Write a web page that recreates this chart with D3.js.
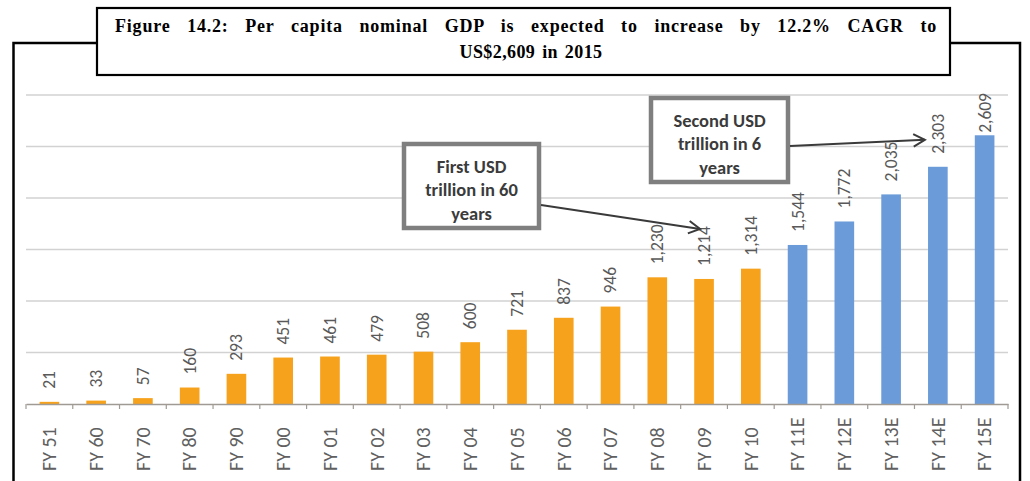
<!DOCTYPE html>
<html><head><meta charset="utf-8">
<script src="https://cdn.jsdelivr.net/npm/d3@7"></script>
<style>body{margin:0;background:#fff;overflow:hidden} svg{display:block}</style>
</head><body>
<svg id="c" width="1030" height="481"></svg>
<script>
// ---- data ----
const categories = ["FY 51","FY 60","FY 70","FY 80","FY 90","FY 00","FY 01","FY 02","FY 03","FY 04","FY 05","FY 06","FY 07","FY 08","FY 09","FY 10","FY 11E","FY 12E","FY 13E","FY 14E","FY 15E"];
const values = [21,33,57,160,293,451,461,479,508,600,721,837,946,1230,1214,1314,1544,1772,2035,2303,2609];
const estimated = [false,false,false,false,false,false,false,false,false,false,false,false,false,false,false,false,true,true,true,true,true];
const gridTicks = [500,1000,1500,2000,2500,3000];
const titleLines = ["Figure 14.2: Per capita nominal GDP is expected to increase by 12.2% CAGR to", "US$2,609 in 2015"];
const note1Lines = ["First USD","trillion in 60","years"];
const note2Lines = ["Second USD","trillion in 6","years"];
const note1Target = "FY 09", note2Target = "FY 14E";
const note1Level = 1700, note2Level = 2565;

// ---- layout ----
const svg = d3.select("#c");
const W = 1030, H = 481;
const plot = {left: 26, right: 1008, top: 95, bottom: 404};
const x = d3.scaleBand().domain(categories).range([plot.left, plot.right]).paddingInner(0.58).paddingOuter(0.29);
const y = d3.scaleLinear().domain([0, 3000]).range([plot.bottom, plot.top]);
const cx = c => x(c) + x.bandwidth() / 2;

// frame lines
const frame = svg.append("g").attr("fill","none").attr("stroke","#000").attr("stroke-width",2.5);
frame.append("path").attr("d", `M13.5,${H} V43 H97`);
frame.append("path").attr("d", `M950,43 H1020 V${H}`);

// title box
svg.append("rect").attr("x",97).attr("y",8).attr("width",853).attr("height",67)
  .attr("fill","#fff").attr("stroke","#000").attr("stroke-width",2.2);
const tfont = "'Palatino Linotype','Book Antiqua',Palatino,'Liberation Serif','DejaVu Serif',serif";
const t1 = svg.append("text").attr("x",115).attr("y",32).attr("font-family",tfont).attr("font-weight","bold")
  .attr("font-size",18).attr("fill","#000").attr("letter-spacing",0.8)
  .text(titleLines[0]);
{
  const natural = t1.node().getComputedTextLength();
  const spaces = titleLines[0].split(" ").length - 1;
  const target = 822;
  if (natural < target) t1.attr("word-spacing", (target - natural) / spaces);
  else t1.attr("textLength", target).attr("lengthAdjust","spacingAndGlyphs");
}
svg.append("text").attr("x",531).attr("y",58).attr("text-anchor","middle").attr("font-family",tfont)
  .attr("font-weight","bold").attr("font-size",18).attr("fill","#000").attr("letter-spacing",0.4).attr("word-spacing",2)
  .text(titleLines[1]);

// gridlines
svg.append("g").selectAll("line").data(gridTicks).join("line")
  .attr("x1",plot.left).attr("x2",plot.right).attr("y1",d=>y(d)).attr("y2",d=>y(d))
  .attr("stroke","#d2d2d2").attr("stroke-width",1.3);

// bars
svg.append("g").selectAll("rect").data(values).join("rect")
  .attr("x",(d,i)=>x(categories[i])).attr("width",x.bandwidth())
  .attr("y",d=>y(d)).attr("height",d=>y(0)-y(d))
  .attr("fill",(d,i)=>estimated[i] ? "#6B9BD8" : "#F7A21C");

// x axis
const axis = d3.axisBottom(x).tickSize(0).tickFormat("");
const ag = svg.append("g").attr("transform",`translate(0,${y(0)})`).call(axis);
ag.select(".domain").attr("stroke","#a09a94").attr("stroke-width",1.3);
const bounds = categories.map(c => cx(c) - x.step()/2).concat([cx(categories[categories.length-1]) + x.step()/2]);
ag.selectAll(".tb").data(bounds).join("line").attr("class","tb")
  .attr("x1",d=>d).attr("x2",d=>d).attr("y1",0).attr("y2",5)
  .attr("stroke","#a09a94").attr("stroke-width",1.2);

// category labels
const lfont = "Calibri,Carlito,'Liberation Sans',Arial,sans-serif";
svg.append("g").selectAll("text").data(categories).join("text")
  .attr("transform",d=>`translate(${cx(d)},471) rotate(-90)`)
  .attr("dy","0.34em").attr("text-anchor","start")
  .attr("font-family",lfont).attr("font-size",20).attr("fill","#606060")
  .text(d=>d);

// value labels
const fmt = d3.format(",");
const vl = svg.append("g").selectAll("text").data(values).join("text")
  .attr("dy","0.34em").attr("text-anchor","start")
  .attr("font-family",lfont).attr("font-size",17.5).attr("fill","#595959")
  .text(d=>fmt(d));
vl.each(function(d,i){
  const len = this.getComputedTextLength();
  let base = y(d) - 13;
  base = Math.max(base, 93 + len);
  d3.select(this).attr("transform",`translate(${cx(categories[i])},${base}) rotate(-90)`);
});

// annotations
function noteBox(x0,y0,w,h,lines,baselines){
  const g = svg.append("g");
  g.append("rect").attr("x",x0).attr("y",y0).attr("width",w).attr("height",h)
    .attr("fill","#fff").attr("stroke","#7f7f7f").attr("stroke-width",4.5);
  g.selectAll("text").data(lines).join("text")
    .attr("x",x0+w/2).attr("y",(d,i)=>baselines[i]).attr("text-anchor","middle")
    .attr("font-family",lfont).attr("font-weight","bold").attr("font-size",18.5).attr("fill","#3b3b3b")
    .text(d=>d);
}
function arrow(x1,y1,x2,y2){
  const a = Math.atan2(y2-y1,x2-x1), L = 13, s = 0.5;
  const p1 = [x2 - L*Math.cos(a - s), y2 - L*Math.sin(a - s)];
  const p2 = [x2 - L*Math.cos(a + s), y2 - L*Math.sin(a + s)];
  const g = svg.append("g").attr("fill","none").attr("stroke","#3a3a3a").attr("stroke-width",2);
  g.append("path").attr("d",`M${x1},${y1} L${x2},${y2}`);
  g.append("path").attr("d",`M${p1[0]},${p1[1]} L${x2},${y2} L${p2[0]},${p2[1]}`);
}
noteBox(404,144,135,84,note1Lines,[173,196,220]);
arrow(541,205,cx(note1Target)-4,y(note1Level));
noteBox(651,98,137,84,note2Lines,[127,150,174]);
arrow(790,146,cx(note2Target)-13,y(note2Level));
</script>
</body></html>
